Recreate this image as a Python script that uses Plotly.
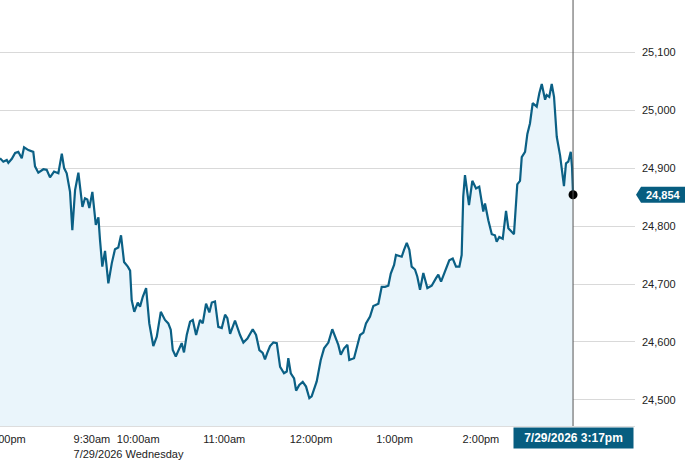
import plotly.graph_objects as go

# minutes from the 9:30am open (negative = previous session tail)
minutes = [
    -50.7, -48.4, -46.0, -44.9, -42.5, -40.2, -38.0, -35.6, -34.0, -31.0,
    -27.6, -26.4, -24.1, -20.6, -18.3, -16.0, -13.2, -10.2, -7.8, -6.2,
    -4.4, -2.1, -0.5, 1.4, 3.7, 6.5, 8.3, 9.9, 11.3, 13.4,
    15.8, 17.6, 18.7, 20.3, 22.2, 24.5, 26.9, 29.1, 31.4, 33.3,
    35.4, 38.0, 39.6, 40.7, 42.5, 44.9, 46.5, 48.4, 50.7, 52.9,
    55.7, 58.1, 60.9, 63.8, 66.1, 67.8, 69.2, 71.3, 75.4, 77.0,
    78.9, 81.2, 83.1, 85.4, 88.1, 90.0, 92.3, 94.6, 96.3, 98.5,
    100.8, 103.2, 105.5, 107.1, 109.0, 112.4, 115.9, 118.2, 121.0, 122.8,
    124.7, 127.0, 129.3, 131.6, 133.2, 134.8, 136.7, 139.0, 141.4, 143.7,
    146.4, 148.3, 149.4, 151.1, 153.4, 154.8, 157.0, 159.4, 161.7, 164.0,
    165.6, 169.1, 171.9, 174.2, 177.2, 179.9, 182.3, 184.1, 185.8, 188.1,
    190.4, 191.7, 195.0, 197.3, 199.2, 201.5, 203.3, 206.1, 208.4, 211.9,
    214.2, 216.5, 218.8, 220.5, 222.8, 224.1, 226.4, 228.1, 229.7, 231.6,
    233.4, 235.0, 237.3, 238.9, 240.8, 243.1, 245.9, 248.9, 251.9, 253.5,
    255.4, 258.2, 261.1, 263.5, 265.8, 268.1, 269.7, 270.8, 272.0, 274.8,
    277.1, 279.7, 281.9, 284.7, 285.9, 288.2, 290.6, 292.8, 294.0, 295.8,
    298.2, 300.5, 302.1, 304.4, 306.0, 308.3, 310.2, 311.4, 313.7, 315.3,
    317.1, 319.0, 321.8, 323.6, 325.3, 327.6, 328.7, 330.5, 332.2, 333.8,
    335.7, 338.0, 340.7, 342.1, 343.7, 345.4, 346.3, 347.0,
]

prices = [
    24917, 24911, 24914, 24909, 24916, 24926, 24928, 24917, 24936, 24931,
    24928, 24903, 24892, 24898, 24897, 24884, 24894, 24891, 24925, 24900,
    24891, 24859, 24793, 24862, 24892, 24833, 24848, 24846, 24831, 24859,
    24802, 24815, 24776, 24730, 24757, 24701, 24736, 24760, 24763, 24784,
    24738, 24730, 24723, 24672, 24652, 24668, 24661, 24678, 24693, 24632,
    24593, 24609, 24652, 24638, 24632, 24621, 24586, 24575, 24598, 24582,
    24612, 24635, 24638, 24612, 24638, 24632, 24666, 24651, 24668, 24670,
    24626, 24624, 24647, 24641, 24614, 24637, 24612, 24599, 24606, 24614,
    24622, 24612, 24586, 24581, 24570, 24581, 24593, 24599, 24598, 24557,
    24546, 24549, 24572, 24546, 24537, 24516, 24526, 24531, 24523, 24503,
    24506, 24532, 24569, 24589, 24599, 24622, 24606, 24595, 24578, 24589,
    24595, 24569, 24572, 24592, 24612, 24616, 24632, 24644, 24662, 24666,
    24695, 24695, 24697, 24718, 24733, 24750, 24748, 24747, 24759, 24771,
    24759, 24730, 24725, 24713, 24690, 24719, 24693, 24697, 24710, 24716,
    24704, 24721, 24741, 24744, 24730, 24730, 24750, 24851, 24888, 24836,
    24878, 24865, 24868, 24825, 24839, 24810, 24786, 24784, 24773, 24781,
    24778, 24826, 24796, 24790, 24786, 24872, 24878, 24919, 24928, 24959,
    24977, 25012, 25006, 25029, 25045, 25018, 25026, 25023, 25045, 25023,
    24954, 24922, 24869, 24908, 24911, 24928, 24902, 24854,
]

tick_minutes = [0, 30, 90, 150, 210, 270]
tick_labels = ["9:30am<br>7/29/2026 Wednesday", "10:00am", "11:00am",
               "12:00pm", "1:00pm", "2:00pm"]
y_ticks = [24500, 24600, 24700, 24800, 24900, 25000, 25100]

last_time_label = "7/29/2026 3:17pm"
last_x = minutes[-1]
last_y = prices[-1]

LINE = "#0b6085"
BOX = "#075d80"
FONT = "Liberation Sans, Arial, sans-serif"

fig = go.Figure()

fig.add_trace(go.Scatter(
    x=minutes, y=prices,
    mode="lines",
    line=dict(color=LINE, width=2.2),
    fill="tozeroy",
    fillcolor="#eaf5fb",
    hoverinfo="skip",
))

fig.add_trace(go.Scatter(
    x=[last_x], y=[last_y],
    mode="markers",
    marker=dict(color="black", size=9),
    hoverinfo="skip",
))

# crosshair
fig.add_shape(type="line", x0=last_x, x1=last_x, xref="x",
              y0=0, y1=1, yref="paper",
              line=dict(color="#555555", width=1))

# arrow-shaped price tag on the right axis
fig.add_shape(type="path", xref="paper", xsizemode="pixel", xanchor=1,
              yref="y", ysizemode="pixel", yanchor=last_y,
              path="M 1 0 L 6 -8 L 50 -8 L 50 8 L 6 8 Z",
              fillcolor=BOX, line=dict(width=0))
fig.add_annotation(x=1, xref="paper", y=last_y, yref="y",
                   xanchor="center", xshift=28, showarrow=False,
                   text="<b>{:,}</b>".format(last_y),
                   font=dict(family=FONT, size=11, color="white"))

# time tag under the crosshair
fig.add_annotation(x=last_x, xref="x", y=0, yref="paper",
                   yanchor="top", yshift=-1, showarrow=False,
                   width=119, height=20, borderpad=0,
                   bgcolor=BOX, text="<b>" + last_time_label + "</b>",
                   font=dict(family=FONT, size=12, color="white"))

# previous session label, cut off at the left edge
fig.add_annotation(x=-0.02, xref="paper", y=0, yref="paper",
                   xanchor="left", yanchor="top", yshift=-5,
                   showarrow=False, text="4:00pm",
                   font=dict(family=FONT, size=11, color="#222222"))

fig.update_layout(
    width=693, height=469,
    margin=dict(l=0, r=58, t=0, b=43, autoexpand=False),
    paper_bgcolor="white", plot_bgcolor="white",
    showlegend=False,
    font=dict(family=FONT, size=11, color="#222222"),
    xaxis=dict(
        range=[-50.7, 390],
        tickvals=tick_minutes, ticktext=tick_labels,
        ticklabelposition="outside right",
        tickangle=0, automargin=False, ticklabelstandoff=3,
        showgrid=False, zeroline=False,
        showline=True, linecolor="#dddddd", linewidth=1,
        ticks="",
    ),
    yaxis=dict(
        side="right",
        range=[24455, 25190],
        tickvals=y_ticks, tickformat=",",
        automargin=False, ticklabelstandoff=6,
        showgrid=True, gridcolor="#d9d9d9", gridwidth=1,
        zeroline=False, ticks="",
    ),
)

fig.write_html("out.html", config={"displayModeBar": False},
               post_script="document.body.style.margin='0';")
